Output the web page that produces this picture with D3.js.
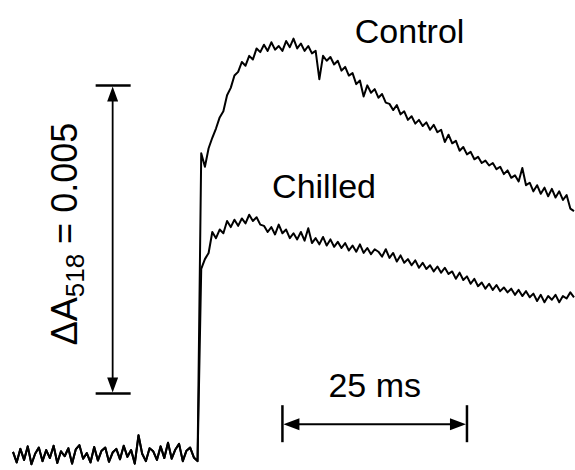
<!DOCTYPE html>
<html>
<head>
<meta charset='utf-8'>
<script src="https://cdnjs.cloudflare.com/ajax/libs/d3/7.8.5/d3.min.js"></script>
<style>
  body { margin: 0; background: #fff; }
  text { font-family: "Liberation Sans", Arial, sans-serif; fill: #000; }
</style>
</head>
<body>
<div id="chart"></div>
<script type="text/javascript">

// sampling: one point every 0.5 ms, time in ms, absorbance change in units of 1e-3
var dt = 0.5
var baselineStart = -25
var traceStart = 0

// dark baseline before the flash (t = -25 .. -0.5 ms)
var baseline = [0.05,-0.12,0.10,-0.08,0.14,-0.15,0.02,0.12,-0.10,0.08,
                -0.05,0.15,-0.13,0.06,-0.02,0.11,-0.14,0.09,0.16,-0.06,
                0.03,-0.12,0.13,-0.09,0.07,0.12,-0.11,0.04,0.10,-0.07,
                0.15,-0.03,0.08,-0.14,0.32,0.02,-0.10,0.11,0.06,-0.08,
                0.14,-0.05,0.20,-0.06,0.09,0.18,-0.10,0.07,0.12,-0.04]

// after the flash (t = 0 .. 51 ms)
var control = [-0.10,4.90,4.68,4.98,5.15,5.30,5.48,5.58,5.84,5.96,
               6.16,6.22,6.38,6.32,6.48,6.42,6.60,6.54,6.66,6.56,
               6.70,6.58,6.64,6.56,6.72,6.62,6.76,6.60,6.68,6.56,
               6.64,6.52,6.56,6.10,6.48,6.40,6.46,6.34,6.40,6.24,
               6.30,6.16,6.20,6.02,6.08,5.82,6.00,5.88,5.94,5.80,
               5.86,5.72,5.70,5.60,5.68,5.53,5.58,5.44,5.50,5.38,
               5.44,5.34,5.40,5.28,5.36,5.24,5.28,5.08,5.20,5.06,
               5.10,4.94,5.00,4.88,4.92,4.80,4.84,4.74,4.78,4.70,
               4.74,4.64,4.68,4.56,4.62,4.50,4.54,4.44,4.66,4.38,
               4.42,4.28,4.38,4.24,4.34,4.20,4.32,4.18,4.28,4.14,
               4.22,4.00,3.96]

var chilled = [-0.10,3.02,3.18,3.28,3.62,3.52,3.66,3.60,3.80,3.70,
               3.82,3.72,3.84,3.76,3.90,3.80,3.86,3.74,3.72,3.62,
               3.70,3.58,3.74,3.60,3.66,3.52,3.60,3.50,3.62,3.48,
               3.68,3.44,3.52,3.42,3.54,3.40,3.50,3.38,3.46,3.36,
               3.44,3.32,3.40,3.30,3.42,3.28,3.36,3.26,3.34,3.30,
               3.22,3.34,3.20,3.28,3.14,3.24,3.12,3.18,3.08,3.16,
               3.04,3.12,3.02,3.08,2.98,3.06,2.96,3.04,2.94,2.98,
               2.86,2.96,2.84,2.90,2.78,2.86,2.74,2.80,2.70,2.78,
               2.68,2.76,2.66,2.72,2.64,2.70,2.60,2.68,2.58,2.66,
               2.56,2.62,2.50,2.60,2.48,2.58,2.52,2.60,2.48,2.58,
               2.54,2.64,2.56]

var labels = ["Control", "Chilled"]
var labelAt = [[21.3, 6.69], [10.1, 4.17]]   // [ms, value] of text start / baseline

// scale bars
var timeBar = {start: 11.5, length: 25, level: 0.5, text: "25 ms"}
var ampBar = {time: -11.5, from: 1.0, to: 6.0}

var width = 575, height = 470

var x = d3.scaleLinear().domain([-25, 51]).range([13, 574])
var y = d3.scaleLinear().domain([0, 5]).range([455, 147])

var svg = d3.select("#chart").append("svg")
    .attr("width", width)
    .attr("height", height)

function toPoints(arr, t0) {
    return arr.map(function(v, i) { return [t0 + i * dt, v] })
}

var base = toPoints(baseline, baselineStart)
var series = [base.concat(toPoints(control, traceStart)),
              base.concat(toPoints(chilled, traceStart))]

var line = d3.line()
    .x(function(d) { return x(d[0]) })
    .y(function(d) { return y(d[1]) })

svg.selectAll("path.trace")
    .data(series)
    .enter().append("path")
    .attr("class", "trace")
    .attr("d", line)
    .style("fill", "none")
    .style("stroke", "#000")
    .style("stroke-width", 2)
    .style("stroke-linejoin", "round")

svg.selectAll("text.label")
    .data(labels)
    .enter().append("text")
    .attr("class", "label")
    .attr("x", function(d, i) { return x(labelAt[i][0]) })
    .attr("y", function(d, i) { return y(labelAt[i][1]) })
    .style("font-size", "34px")
    .text(function(d) { return d })

// vertical amplitude bar
var vx = x(ampBar.time), vTop = y(ampBar.to), vBot = y(ampBar.from)
var bars = svg.append("g").style("stroke", "#000")

bars.append("line")
    .attr("x1", vx).attr("x2", vx)
    .attr("y1", vTop + 10).attr("y2", vBot - 10)
    .style("stroke-width", 1.8)
bars.append("line")
    .attr("x1", vx - 17).attr("x2", vx + 18)
    .attr("y1", vTop).attr("y2", vTop)
    .style("stroke-width", 2.5)
bars.append("line")
    .attr("x1", vx - 17).attr("x2", vx + 18)
    .attr("y1", vBot).attr("y2", vBot)
    .style("stroke-width", 2.5)

svg.append("path")
    .attr("d", "M" + vx + "," + (vTop + 1) + "L" + (vx - 5.5) + "," + (vTop + 16) +
               "L" + (vx + 5.5) + "," + (vTop + 16) + "Z" +
               "M" + vx + "," + (vBot - 1) + "L" + (vx - 5.5) + "," + (vBot - 16) +
               "L" + (vx + 5.5) + "," + (vBot - 16) + "Z")
    .style("fill", "#000")

var ampLabel = svg.append("text")
    .attr("transform", "translate(77," + y(1.78) + ") rotate(-90)")
    .style("font-size", "36px")
ampLabel.append("tspan").text("\u0394A")
ampLabel.append("tspan").attr("dy", 7).style("font-size", "26px").text("518")
ampLabel.append("tspan").attr("dy", -7).text(" = 0.005")

// horizontal time bar
var hy = y(timeBar.level), hL = x(timeBar.start), hR = x(timeBar.start + timeBar.length)

bars.append("line")
    .attr("x1", hL + 10).attr("x2", hR - 10)
    .attr("y1", hy).attr("y2", hy)
    .style("stroke-width", 2)
bars.append("line")
    .attr("x1", hL).attr("x2", hL)
    .attr("y1", hy - 19).attr("y2", hy + 18)
    .style("stroke-width", 2.5)
bars.append("line")
    .attr("x1", hR).attr("x2", hR)
    .attr("y1", hy - 19).attr("y2", hy + 18)
    .style("stroke-width", 2.5)

svg.append("path")
    .attr("d", "M" + (hL + 1) + "," + hy + "L" + (hL + 17) + "," + (hy - 6) +
               "L" + (hL + 17) + "," + (hy + 6) + "Z" +
               "M" + (hR - 1) + "," + hy + "L" + (hR - 17) + "," + (hy - 6) +
               "L" + (hR - 17) + "," + (hy + 6) + "Z")
    .style("fill", "#000")

svg.append("text")
    .attr("x", (hL + hR) / 2)
    .attr("y", hy - 27)
    .attr("text-anchor", "middle")
    .style("font-size", "34px")
    .text(timeBar.text)

</script>
</body>
</html>
